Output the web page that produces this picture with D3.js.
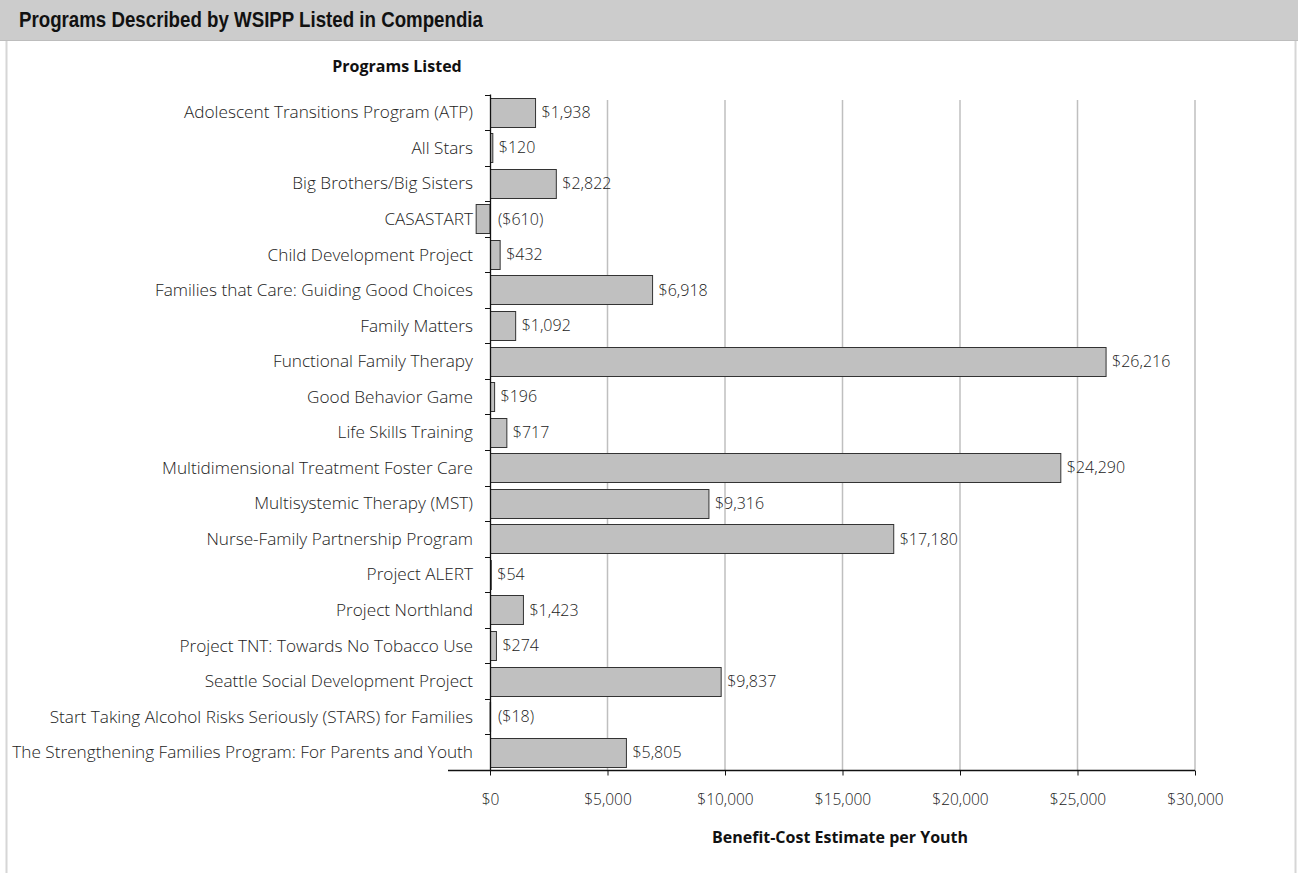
<html>
<head>
<script src="https://d3js.org/d3.v7.min.js"></script>
<style>
  body { margin: 0; background: #fff; }
  text { font-family: "Open Sans", "Noto Sans", sans-serif; }
</style>
</head>
<body>
<script>
// chart data
var programs = [
  "Adolescent Transitions Program (ATP)",
  "All Stars",
  "Big Brothers/Big Sisters",
  "CASASTART",
  "Child Development Project",
  "Families that Care: Guiding Good Choices",
  "Family Matters",
  "Functional Family Therapy",
  "Good Behavior Game",
  "Life Skills Training",
  "Multidimensional Treatment Foster Care",
  "Multisystemic Therapy (MST)",
  "Nurse-Family Partnership Program",
  "Project ALERT",
  "Project Northland",
  "Project TNT: Towards No Tobacco Use",
  "Seattle Social Development Project",
  "Start Taking Alcohol Risks Seriously (STARS) for Families",
  "The Strengthening Families Program: For Parents and Youth"
];
var benefitCost = [1938, 120, 2822, -610, 432, 6918, 1092, 26216, 196, 717,
  24290, 9316, 17180, 54, 1423, 274, 9837, -18, 5805];
var xTicks = [0, 5000, 10000, 15000, 20000, 25000, 30000];

var W = 1298, H = 873;
var svg = d3.select("body").append("svg").attr("width", W).attr("height", H);

// frame + header band
svg.append("rect").attr("x", 6.5).attr("y", 0).attr("width", 1289).attr("height", H + 2)
  .attr("fill", "#fff").attr("stroke", "#d6d6d6").attr("stroke-width", 2);
svg.append("rect").attr("x", 0).attr("y", 0).attr("width", W).attr("height", 40)
  .attr("fill", "#cccccc");
svg.append("line").attr("x1", 0).attr("x2", W).attr("y1", 40.5).attr("y2", 40.5)
  .attr("stroke", "#bdbdbd");
svg.append("text").attr("transform", "translate(19,27) scale(0.85,1)")
  .style("font-family", "'Liberation Sans', Arial, sans-serif")
  .attr("font-weight", "bold").attr("font-size", 22).attr("fill", "#111")
  .text("Programs Described by WSIPP Listed in Compendia");

var x = d3.scaleLinear().domain([0, 30000]).range([490, 1195]);
var y = d3.scaleBand().domain(programs).range([94.5, 770]).paddingInner(0.18).paddingOuter(0.09);
var step = y.step();

var g = svg.append("g");

// gridlines
g.selectAll(".grid").data(xTicks.slice(1)).enter().append("line")
  .attr("x1", d => x(d)).attr("x2", d => x(d))
  .attr("y1", 100).attr("y2", 770)
  .attr("stroke", "#bfbfbf").attr("stroke-width", 1.5);

// bars
g.selectAll(".bar").data(benefitCost).enter().append("rect")
  .attr("x", d => Math.min(x(0), x(d)) + 0.5)
  .attr("y", (d, i) => Math.round(y(programs[i])) + 0.5)
  .attr("width", d => Math.max(Math.abs(x(d) - x(0)) - 0.5, 0.5))
  .attr("height", Math.round(y.bandwidth()))
  .attr("fill", "#c0c0c0").attr("stroke", "#333").attr("stroke-width", 1);

// value labels
var fmt = d3.format(",");
g.selectAll(".val").data(benefitCost).enter().append("text")
  .attr("x", d => d < 0 ? x(0) + 8 : x(d) + 6)
  .attr("y", (d, i) => y(programs[i]) + y.bandwidth() / 2)
  .attr("dy", "0.35em").attr("font-size", 16).attr("font-weight", 300).attr("fill", "#222")
  .text(d => d < 0 ? "($" + fmt(-d) + ")" : "$" + fmt(d));

// category labels
g.selectAll(".cat").data(programs).enter().append("text")
  .attr("x", 473).attr("y", d => y(d) + y.bandwidth() / 2)
  .attr("dy", "0.35em").attr("text-anchor", "end")
  .attr("font-size", 17.2).attr("font-weight", 300).attr("fill", "#222").text(d => d);

// y axis with ticks on band boundaries
var y0 = y.range()[0];
g.append("line").attr("x1", 490.5).attr("x2", 490.5).attr("y1", y0).attr("y2", 770)
  .attr("stroke", "#111").attr("stroke-width", 1.3);
g.selectAll(".ytick").data(d3.range(programs.length)).enter().append("line")
  .attr("x1", 485).attr("x2", 490)
  .attr("y1", i => Math.round(y0 + i * step) + 0.5).attr("y2", i => Math.round(y0 + i * step) + 0.5)
  .attr("stroke", "#111");

// x axis
var xAxis = g.append("g").attr("transform", "translate(0,770.5)")
  .call(d3.axisBottom(x).tickValues(xTicks).tickSize(5).tickPadding(18)
    .tickFormat(d => "$" + fmt(d)));
xAxis.select(".domain").remove();
xAxis.append("line").attr("x1", 448).attr("x2", x(30000)).attr("stroke", "#111").attr("stroke-width", 1.3);
xAxis.selectAll(".tick line").attr("stroke", "#111");
xAxis.selectAll(".tick text").attr("font-size", 15.5).attr("font-weight", 300).attr("fill", "#222")
  .style("font-family", "'Open Sans', sans-serif");

// axis titles
svg.append("text").attr("x", 397).attr("y", 72).attr("text-anchor", "middle")
  .attr("font-weight", "bold").attr("font-size", 16).attr("fill", "#111").text("Programs Listed");
svg.append("text").attr("x", 840).attr("y", 843).attr("text-anchor", "middle")
  .attr("font-weight", "bold").attr("font-size", 16).attr("fill", "#111").text("Benefit-Cost Estimate per Youth");
</script>
</body>
</html>
